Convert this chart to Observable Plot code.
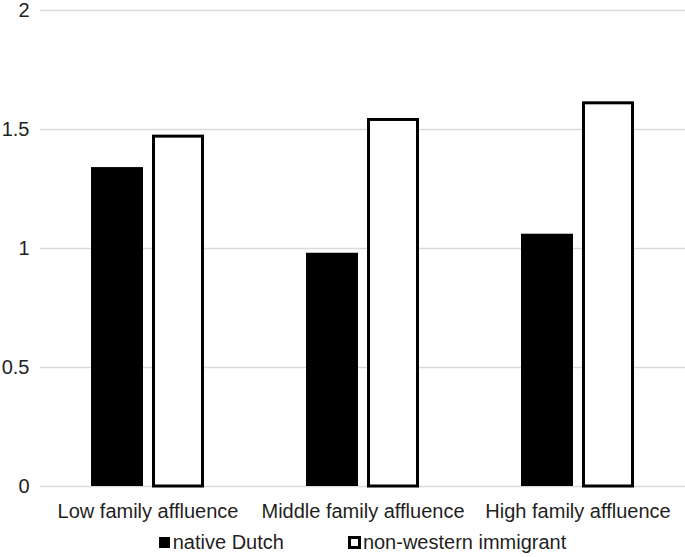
<!DOCTYPE html>
<html>
<head>
<meta charset="utf-8">
<script src="https://cdn.jsdelivr.net/npm/d3@7"></script>
<script src="https://cdn.jsdelivr.net/npm/@observablehq/plot@0.6"></script>
<style>
  body { margin: 0; background: white; }
  #legend {
    height: 30px; display: flex; justify-content: center; align-items: center;
    font-family: "Liberation Sans", Arial, sans-serif; font-size: 20px; color: #1f1f1f;
    padding-left: 40px; box-sizing: border-box; width: 685px;
  }
  .item { display: flex; align-items: center; margin: 0 32px; }
  .sw { box-sizing: border-box; margin-right: 3px; }
</style>
</head>
<body>
<div id="chart"></div>
<div id="legend"></div>
<script>
const categories = ["Low family affluence", "Middle family affluence", "High family affluence"];
const groups = ["native Dutch", "non-western immigrant"];
const nativeDutch = [1.34, 0.98, 1.06];
const nonWestern = [1.47, 1.54, 1.61];
const yTicks = [0, 0.5, 1, 1.5, 2];

const data = categories.flatMap((c, i) => [
  {category: c, group: groups[0], value: nativeDutch[i]},
  {category: c, group: groups[1], value: nonWestern[i]}
]);

const chart = Plot.plot({
  width: 685,
  height: 527,
  marginLeft: 40,
  marginRight: 0,
  marginTop: 10,
  marginBottom: 41,
  style: {fontFamily: "'Liberation Sans', Arial, sans-serif", fontSize: "20px", color: "#1f1f1f", background: "white"},
  fx: {domain: categories, padding: 0, label: null, axis: "bottom", tickSize: 0, tickPadding: 17},
  x: {domain: groups, axis: null, paddingInner: 0.148, paddingOuter: 0.836},
  y: {domain: [0, 2], ticks: yTicks, tickFormat: d => String(d), tickSize: 0, tickPadding: 11, label: null},
  marks: [
    Plot.ruleY(yTicks, {stroke: "#d9d9d9", strokeWidth: 1.5}),
    Plot.barY(data.filter(d => d.group === groups[0]), {fx: "category", x: "group", y: "value", fill: "black"}),
    Plot.barY(data.filter(d => d.group === groups[1]), {fx: "category", x: "group", y: "value", fill: "white", stroke: "black", strokeWidth: 3, insetLeft: 1.5, insetRight: 1.5})
  ]
});
document.getElementById("chart").append(chart);

const legend = document.getElementById("legend");
groups.forEach((g, i) => {
  const item = document.createElement("div");
  item.className = "item";
  const sw = document.createElement("div");
  sw.className = "sw";
  if (i === 0) {
    sw.style.width = "11px"; sw.style.height = "11px"; sw.style.background = "black";
  } else {
    sw.style.width = "13px"; sw.style.height = "13px"; sw.style.background = "white";
    sw.style.border = "3px solid black"; sw.style.marginRight = "2px";
  }
  const t = document.createElement("span");
  t.textContent = g;
  item.append(sw, t);
  legend.append(item);
});
</script>
</body>
</html>
